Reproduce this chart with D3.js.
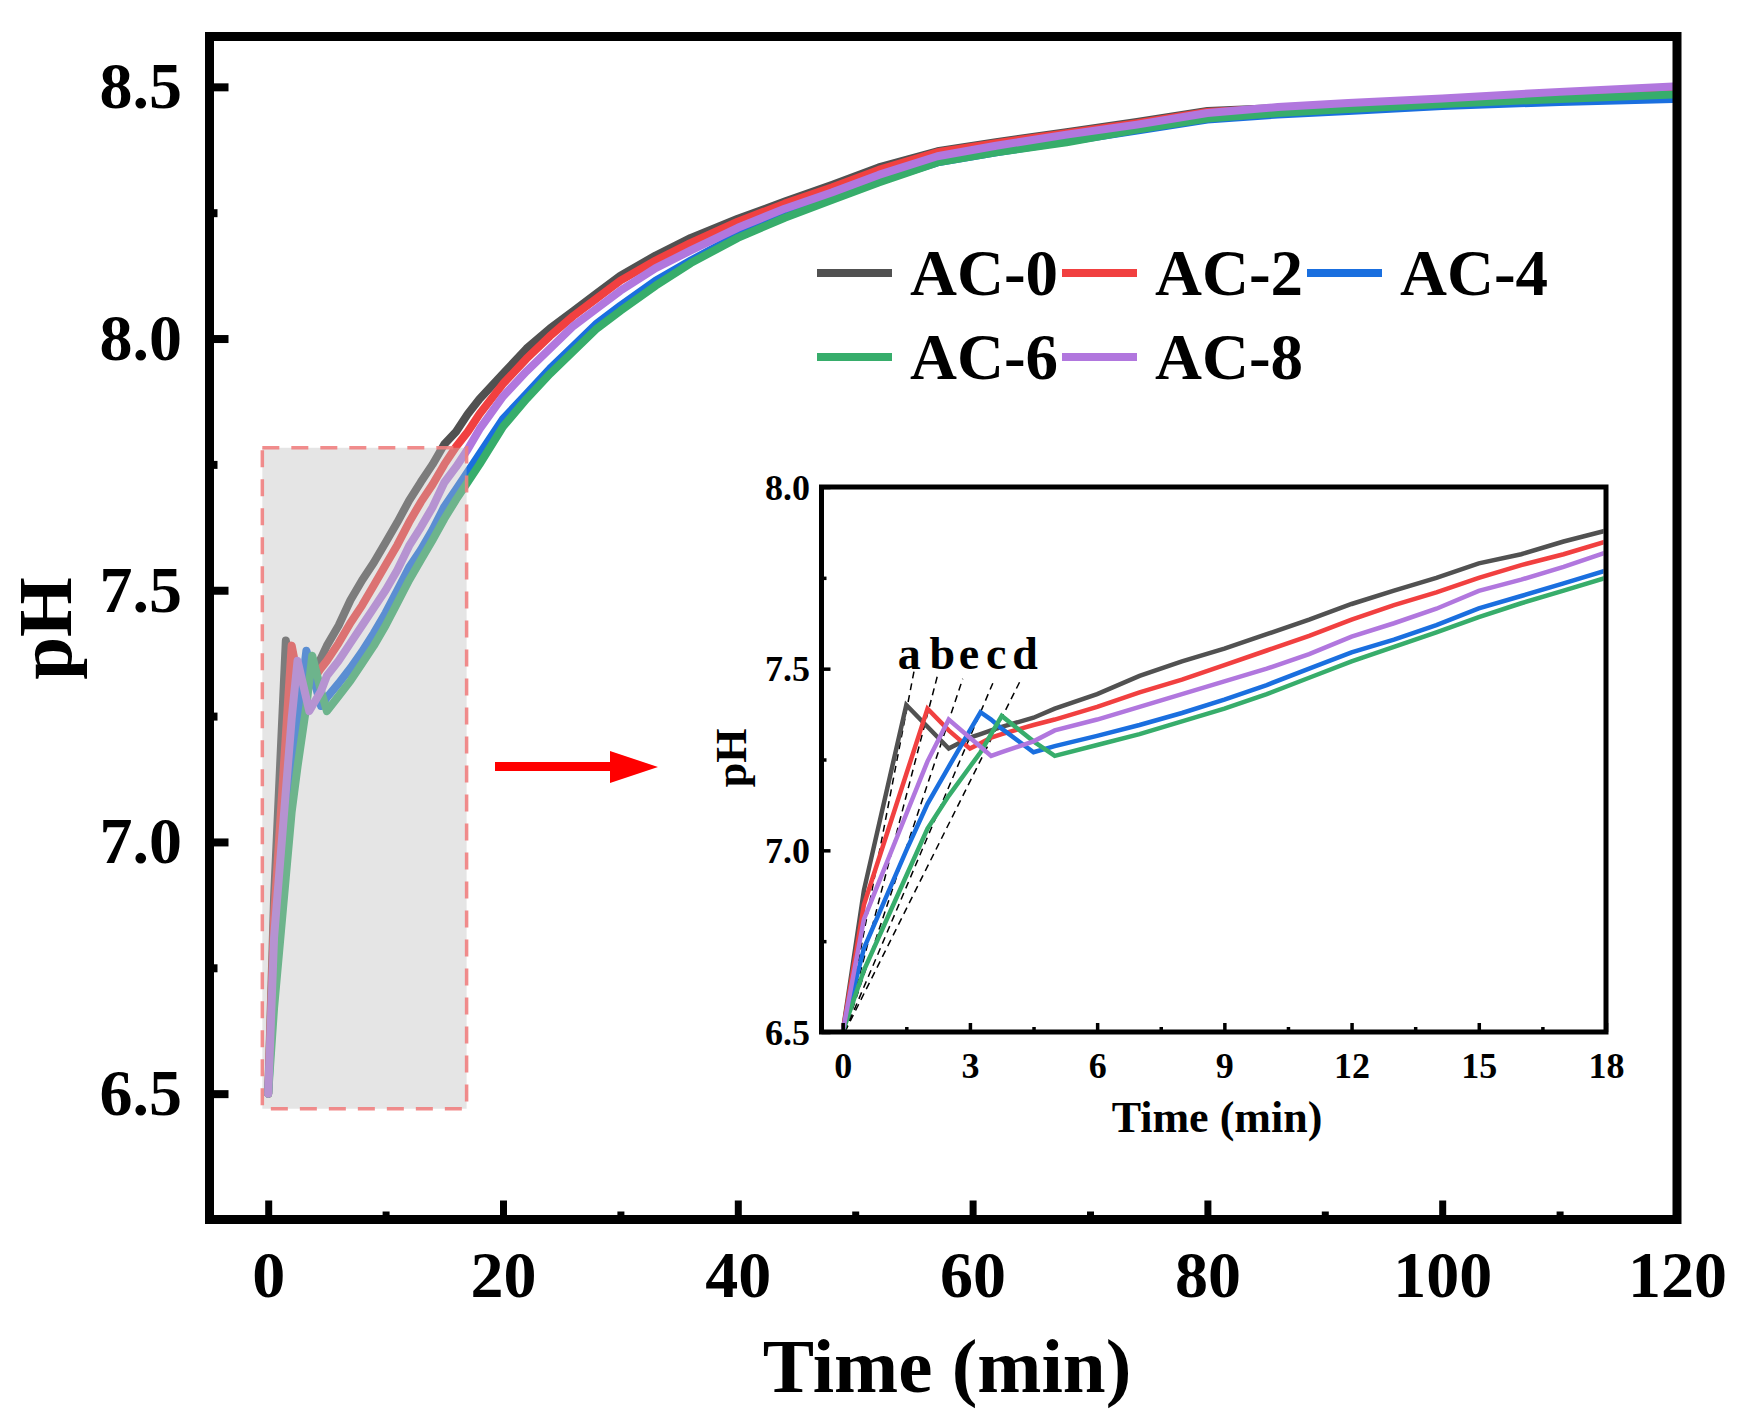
<!DOCTYPE html>
<html><head><meta charset="utf-8">
<script src="https://cdn.jsdelivr.net/npm/d3@7"></script>
<style>
body{margin:0;background:#fff}
text{font-family:"Liberation Serif","Times New Roman",serif;font-weight:bold}
</style></head><body>
<svg id="c" width="1745" height="1423"></svg>
<script>
// ---------- data ----------
const times = [0,0.5,1.5,2,2.5,3,3.25,3.5,3.75,4.5,5,6,7,8,9,10,11,12,13,14,15,16,17,18,20,22,24,26,28,30,33,36,40,44,48,52,57,62,68,74,80,86,92,100,110,120];
const ac0 = [6.50,6.89,7.40,7.34,7.28,7.31,7.32,7.33,7.34,7.365,7.39,7.43,7.48,7.52,7.555,7.595,7.635,7.678,7.715,7.75,7.79,7.815,7.85,7.88,7.93,7.98,8.02,8.055,8.09,8.125,8.165,8.20,8.238,8.272,8.305,8.34,8.372,8.39,8.41,8.43,8.452,8.458,8.466,8.475,8.488,8.498];
const ac2 = [6.50,6.85,7.21,7.39,7.33,7.28,7.295,7.31,7.32,7.345,7.36,7.395,7.435,7.47,7.51,7.55,7.59,7.635,7.675,7.71,7.75,7.785,7.815,7.85,7.91,7.96,8.005,8.045,8.08,8.115,8.155,8.19,8.232,8.268,8.30,8.335,8.37,8.388,8.408,8.428,8.45,8.457,8.465,8.474,8.487,8.497];
const ac4 = [6.50,6.73,7.00,7.128,7.23,7.33,7.38,7.36,7.335,7.27,7.287,7.315,7.345,7.378,7.415,7.455,7.50,7.545,7.58,7.62,7.666,7.70,7.735,7.77,7.84,7.89,7.94,7.985,8.03,8.065,8.115,8.155,8.205,8.245,8.28,8.313,8.35,8.37,8.392,8.413,8.435,8.445,8.452,8.462,8.47,8.476];
const ac6 = [6.50,6.67,6.93,7.06,7.15,7.23,7.27,7.32,7.37,7.30,7.26,7.29,7.32,7.355,7.39,7.43,7.475,7.52,7.56,7.60,7.642,7.68,7.715,7.75,7.825,7.88,7.93,7.975,8.02,8.055,8.105,8.15,8.20,8.24,8.275,8.31,8.35,8.37,8.39,8.415,8.437,8.448,8.456,8.466,8.476,8.485];
const ac8 = [6.50,6.81,7.10,7.245,7.36,7.31,7.285,7.26,7.27,7.30,7.33,7.36,7.395,7.43,7.465,7.50,7.54,7.588,7.625,7.665,7.714,7.745,7.78,7.82,7.885,7.935,7.98,8.025,8.06,8.095,8.14,8.175,8.22,8.258,8.29,8.325,8.362,8.383,8.405,8.425,8.448,8.46,8.468,8.477,8.49,8.501];
const seriesNames = ["AC-0","AC-2","AC-4","AC-6","AC-8"];
const seriesColors = ["#515151","#F14040","#1A6FDF","#37AD6B","#B177DE"];
const seriesValues = [ac0,ac2,ac4,ac6,ac8];
const xTicksMain = [0,20,40,60,80,100,120];
const xMinorMain = [10,30,50,70,90,110];
const yTicksMain = [6.5,7.0,7.5,8.0,8.5];
const yMinorMain = [6.25,6.75,7.25,7.75,8.25];
const xTicksInset = [0,3,6,9,12,15,18];
const xMinorInset = [1.5,4.5,7.5,10.5,13.5,16.5];
const yTicksInset = [6.5,7.0,7.5,8.0];
const yMinorInset = [6.75,7.25,7.75];
// zoom box (data coords of main chart)
const zoomBox = {x0:-0.5, x1:16.9, y0:6.47, y1:7.783};
// inset peak annotations
const annLabels = ["a","b","e","c","d"];
const annLabelX = [1.57,2.35,2.98,3.62,4.30];
const annTopX = [1.69,2.24,2.83,3.54,4.21];
const annTopY = [7.498,7.483,7.472,7.46,7.472];

// ---------- drawing ----------
const svg = d3.select("#c");
const F = '"Liberation Serif","Times New Roman",serif';
const data = seriesValues.map((v,i)=>({name:seriesNames[i],color:seriesColors[i],pts:times.map((t,j)=>[t,v[j]])}));

const X = d3.scaleLinear().domain([-5,120]).range([209.5,1677]);
const Y = d3.scaleLinear().domain([6.25,8.6]).range([1219.5,36.5]);

svg.append("clipPath").attr("id","mclip").append("rect")
  .attr("x",214).attr("y",41).attr("width",1459).attr("height",1174);

const mainLine = d3.line().x(d=>X(d[0])).y(d=>Y(d[1]));
const gLines = svg.append("g").attr("clip-path","url(#mclip)");
data.forEach(s=>{
  gLines.append("path").attr("d",mainLine(s.pts)).attr("fill","none")
    .attr("stroke",s.color).attr("stroke-width",8)
    .attr("stroke-linejoin","round").attr("stroke-linecap","round");
});

svg.append("rect")
  .attr("x",X(zoomBox.x0)).attr("y",Y(zoomBox.y1))
  .attr("width",X(zoomBox.x1)-X(zoomBox.x0)).attr("height",Y(zoomBox.y0)-Y(zoomBox.y1))
  .attr("fill","#bfbfbf").attr("fill-opacity",0.4)
  .attr("stroke","#f08080").attr("stroke-opacity",0.9).attr("stroke-width",3.5)
  .attr("stroke-dasharray","17,12");

function styleAxis(g,w){
  g.select(".domain").remove();
  g.selectAll(".tick line").attr("stroke","#000").attr("stroke-width",w);
}
const gx = svg.append("g").attr("transform","translate(0,1219.5)")
  .call(d3.axisBottom(X).tickValues(xTicksMain).tickSize(-19).tickFormat(d3.format("d")));
styleAxis(gx,7);
gx.selectAll(".tick text").attr("y",77.5).attr("dy",0).attr("font-size",66).attr("fill","#000").attr("font-family",F);
const gxm = svg.append("g").attr("transform","translate(0,1219.5)")
  .call(d3.axisBottom(X).tickValues(xMinorMain).tickSize(-8).tickFormat(""));
styleAxis(gxm,7);

const gy = svg.append("g").attr("transform","translate(209.5,0)")
  .call(d3.axisLeft(Y).tickValues(yTicksMain).tickSize(-19).tickFormat(d3.format(".1f")));
styleAxis(gy,8);
gy.selectAll(".tick text").attr("x",-27.5).attr("dy",21).attr("font-size",66).attr("fill","#000").attr("font-family",F);
const gym = svg.append("g").attr("transform","translate(209.5,0)")
  .call(d3.axisLeft(Y).tickValues(yMinorMain).tickSize(-8).tickFormat(""));
styleAxis(gym,8);

svg.append("rect").attr("x",209.5).attr("y",36.5).attr("width",1677-209.5).attr("height",1219.5-36.5)
  .attr("fill","none").attr("stroke","#000").attr("stroke-width",9);

svg.append("text").attr("x",947).attr("y",1392).attr("text-anchor","middle")
  .attr("font-size",77).text("Time (min)");
svg.append("text").attr("transform","translate(71,628.5) rotate(-90)").attr("text-anchor","middle")
  .attr("font-size",77).text("pH");

const legX = [817,1062,1307];
const legY = [273,357];
data.forEach((s,i)=>{
  const c = i%3, r = Math.floor(i/3);
  svg.append("line").attr("x1",legX[c]).attr("x2",legX[c]+75).attr("y1",legY[r]).attr("y2",legY[r])
    .attr("stroke",s.color).attr("stroke-width",8);
  svg.append("text").attr("x",legX[c]+93).attr("y",legY[r]+22).attr("font-size",65).text(s.name);
});

svg.append("path").attr("d","M495,762 L610,762 L610,751 L658,767 L610,783 L610,771 L495,771 Z")
  .attr("fill","#ff0000");

// ---------- inset ----------
const IX = d3.scaleLinear().domain([-0.5,18]).range([821.5,1606]);
const IY = d3.scaleLinear().domain([6.5,8.0]).range([1032,487]);
svg.append("rect").attr("x",821.5).attr("y",487).attr("width",1606-821.5).attr("height",1032-487).attr("fill","#fff");
svg.append("clipPath").attr("id","iclip").append("rect")
  .attr("x",824).attr("y",489.5).attr("width",1606-826.5).attr("height",1032-492);
const insetLine = d3.line().x(d=>IX(d[0])).y(d=>IY(d[1]));
const gI = svg.append("g").attr("clip-path","url(#iclip)");
annTopX.forEach((tx,i)=>{
  gI.append("line").attr("x1",IX(0.05)).attr("y1",IY(6.5)).attr("x2",IX(tx)).attr("y2",IY(annTopY[i]))
    .attr("stroke","#000").attr("stroke-width",1.5).attr("stroke-dasharray","7,5");
});
data.forEach(s=>{
  gI.append("path").attr("d",insetLine(s.pts)).attr("fill","none")
    .attr("stroke",s.color).attr("stroke-width",4.5).attr("stroke-linejoin","miter");
});
annLabels.forEach((l,i)=>{
  svg.append("text").attr("x",IX(annLabelX[i])).attr("y",IY(7.5)).attr("text-anchor","middle")
    .attr("font-size",46).text(l);
});
const ix = svg.append("g").attr("transform","translate(0,1032)")
  .call(d3.axisBottom(IX).tickValues(xTicksInset).tickSize(-9).tickFormat(d3.format("d")));
styleAxis(ix,3.5);
ix.selectAll(".tick text").attr("y",46).attr("dy",0).attr("font-size",36).attr("fill","#000").attr("font-family",F);
const ixm = svg.append("g").attr("transform","translate(0,1032)")
  .call(d3.axisBottom(IX).tickValues(xMinorInset).tickSize(-5).tickFormat(""));
styleAxis(ixm,3.5);
const iy = svg.append("g").attr("transform","translate(821.5,0)")
  .call(d3.axisLeft(IY).tickValues(yTicksInset).tickSize(-9).tickFormat(d3.format(".1f")));
styleAxis(iy,3.5);
iy.selectAll(".tick text").attr("x",-11.5).attr("dy",12).attr("font-size",36).attr("fill","#000").attr("font-family",F);
const iym = svg.append("g").attr("transform","translate(821.5,0)")
  .call(d3.axisLeft(IY).tickValues(yMinorInset).tickSize(-5).tickFormat(""));
styleAxis(iym,3.5);
svg.append("rect").attr("x",821.5).attr("y",487).attr("width",1606-821.5).attr("height",1032-487)
  .attr("fill","none").attr("stroke","#000").attr("stroke-width",5);
svg.append("text").attr("x",1217).attr("y",1132).attr("text-anchor","middle").attr("font-size",44).text("Time (min)");
svg.append("text").attr("transform","translate(746,758) rotate(-90)").attr("text-anchor","middle")
  .attr("font-size",44).text("pH");
</script></body></html>
